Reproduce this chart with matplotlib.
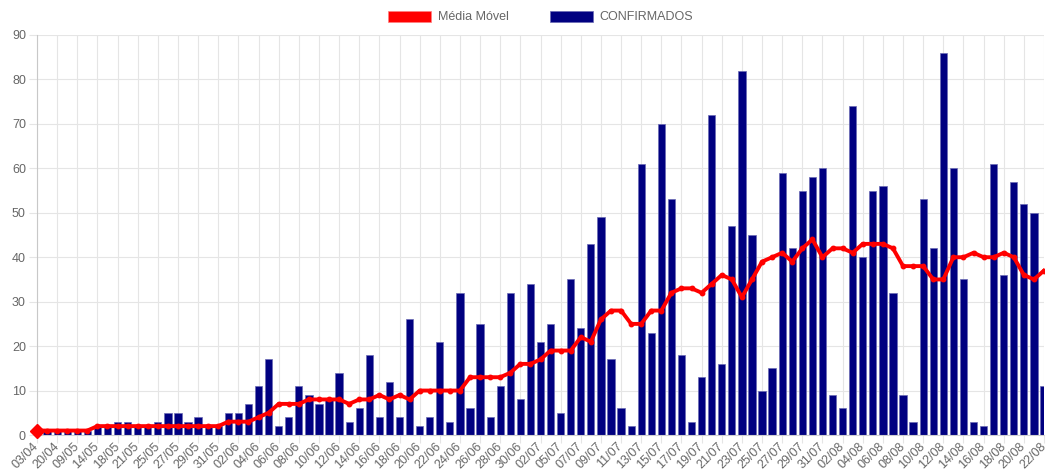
import matplotlib
matplotlib.use("Agg")
import matplotlib.pyplot as plt
from matplotlib.patches import Patch

# categorias (datas com registro); no gráfico só uma em cada duas aparece
DATAS = (
    ["03/04", "10/04", "20/04", "28/04", "09/05", "12/05", "14/05", "16/05",
     "18/05", "19/05", "21/05", "23/05", "25/05", "26/05", "27/05", "28/05",
     "29/05", "30/05", "31/05"]
    + ["01/06", "02/06", "03/06", "04/06", "05/06", "06/06", "07/06", "08/06",
       "09/06", "10/06", "11/06", "12/06", "13/06", "14/06", "15/06", "16/06",
       "17/06", "18/06", "19/06", "20/06", "21/06", "22/06", "23/06", "24/06",
       "25/06", "26/06", "27/06", "28/06", "29/06", "30/06"]
    + ["01/07", "02/07", "04/07", "05/07", "06/07", "07/07", "08/07", "09/07",
       "10/07", "11/07", "12/07", "13/07", "14/07", "15/07", "16/07", "17/07",
       "18/07", "19/07", "20/07", "21/07", "22/07", "23/07", "24/07", "25/07",
       "26/07", "27/07", "28/07", "29/07", "30/07", "31/07"]
    + ["01/08", "02/08", "03/08", "04/08", "05/08", "06/08", "07/08", "08/08",
       "09/08", "10/08", "11/08", "12/08", "13/08", "14/08", "15/08", "16/08",
       "17/08", "18/08", "19/08", "20/08", "21/08", "22/08"]
)

CONFIRMADOS = [
    1, 1, 1, 1, 1, 1,
    2, 2, 3, 3, 2, 2, 3, 5, 5, 3, 4, 2, 2, 5, 5, 7, 11, 17,
    2, 4, 11, 9, 7, 8, 14, 3, 6, 18, 4, 12, 4, 26, 2, 4, 21, 3, 32, 6, 25, 4,
    11, 32, 8, 34,
    21, 25, 5, 35, 24, 43, 49, 17, 6, 2, 61, 23, 70, 53, 18, 3, 13, 72, 16, 47,
    82, 45, 10, 15, 59, 42,
    55, 58, 60, 9, 6, 74, 40, 55, 56, 32, 9, 3, 53, 42, 86, 60, 35, 3, 2, 61,
    36, 57, 52, 50, 11,
]

MEDIA_MOVEL = [
    1, 1, 1, 1, 1, 1,
    2, 2, 2, 2, 2, 2, 2, 2, 2, 2, 2, 2, 2, 3, 3, 3, 4, 5,
    7, 7, 7, 8, 8, 8, 8, 7, 8, 8, 9, 8, 9, 8, 10, 10, 10, 10, 10, 13, 13, 13,
    13, 14, 16, 16,
    17, 19, 19, 19, 22, 21, 26, 28, 28, 25, 25, 28, 28, 32, 33, 33, 32, 34, 36,
    35, 31, 35, 39, 40, 41, 39,
    42, 44, 40, 42, 42, 41, 43, 43, 43, 42, 38, 38, 38, 35, 35, 40, 40, 41, 40,
    40, 41, 40, 36, 35, 37,
]

CINZA = "#666666"
GRADE = "#e5e5e5"

plt.rcParams["font.family"] = ["Liberation Sans", "DejaVu Sans"]

fig = plt.figure(figsize=(10.48, 4.73), dpi=100)
ax = fig.add_axes([37 / 1048, 38 / 473, 1007 / 1048, 400 / 473])

x = list(range(len(DATAS)))
ax.bar(x, CONFIRMADOS, width=0.72, color="#000080",
       edgecolor="#6a6ab4", linewidth=0.5, zorder=2)
ax.plot(x, MEDIA_MOVEL, color="#ff0000", lw=2.8, marker="o", ms=3.2,
        solid_joinstyle="round", zorder=3)
# o primeiro ponto aparece destacado (losango maior)
ax.plot(x[:1], MEDIA_MOVEL[:1], linestyle="none", marker="D", ms=7.5,
        color="#ff0000", zorder=4, clip_on=False)

ax.set_xlim(0, len(DATAS) - 1)
ax.set_ylim(0, 90)
ax.set_yticks(range(0, 91, 10))
ax.set_xticks(x[::2])
ax.set_xticklabels(DATAS[::2], rotation=45, ha="right", va="center",
                   rotation_mode="anchor")

ax.grid(True, color=GRADE, lw=0.8, zorder=0)
ax.set_axisbelow(True)
ax.tick_params(axis="both", colors=GRADE, labelcolor=CINZA, labelsize=9,
               length=6, width=0.8)
ax.tick_params(axis="x", pad=1)
ax.tick_params(axis="y", pad=2)
for lado in ("top", "right"):
    ax.spines[lado].set_visible(False)
ax.spines["left"].set_color("#c8c8c8")
ax.spines["bottom"].set_color("#d0d0d0")

handles = [Patch(facecolor="#ff0000", edgecolor="#ff8080", lw=0.5),
           Patch(facecolor="#000080", edgecolor="#6a6ab4", lw=0.5)]
ax.legend(handles, ["Média Móvel", "CONFIRMADOS"], loc="center",
          bbox_to_anchor=(0.5, 1.045), ncol=2, frameon=False,
          handlelength=3.45, handleheight=1.0, handletextpad=0.5,
          columnspacing=3.3, fontsize=9, labelcolor=CINZA)

fig.savefig("out.png", dpi=100)
